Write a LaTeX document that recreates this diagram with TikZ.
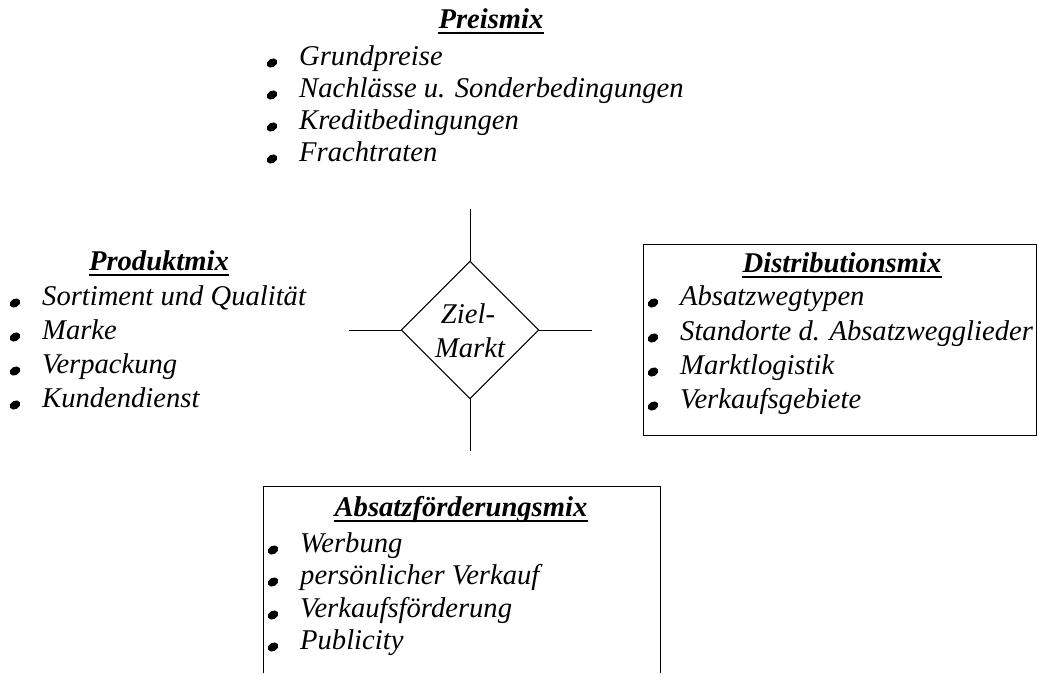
\documentclass[tikz,border=0pt]{standalone}
\usepackage{fontspec}
\setmainfont{Liberation Serif}
\begin{document}
\begin{tikzpicture}[x=1pt,y=-1pt,
  txt/.style={inner sep=0pt,anchor=base west,font=\fontsize{28.6}{32}\selectfont\itshape},
  head/.style={inner sep=0pt,anchor=base,font=\fontsize{28.6}{32}\selectfont\bfseries\itshape},
  ul/.style={line width=2.2pt},
  frame/.style={draw,line width=1pt},
  link/.style={line width=1pt}]
\useasboundingbox (0,0) rectangle (1038,673);

% item with a slanted bullet in front of it
\newcommand{\bitem}[4]{%
  \node[txt] (#1) at (#2,#3) {#4};
  \fill[black,rotate around={30:(#2-27,#3-2)}] (#2-27,#3-2) ellipse (5.6pt and 4.2pt);}
\newcommand{\heading}[4]{%
  \node[head] (#1) at (#2,#3) {#4};
  \draw[ul] ([yshift=-5]#1.base west) -- ([yshift=-5]#1.base east);}

% target market in the middle
\node[draw,line width=1pt,shape=rectangle,rotate=45,minimum size=97,inner sep=0] (zm) at (470,330) {};
\node[inner sep=0,anchor=base,font=\fontsize{28.6}{32}\selectfont\itshape] (z1) at (468,323) {Ziel-};
\node[inner sep=0,anchor=base,font=\fontsize{28.6}{32}\selectfont\itshape] (z2) at (470,357) {Markt};
\coordinate (ztop) at (470,209);
\coordinate (zbot) at (470,451);
\coordinate (zlft) at (349,330);
\coordinate (zrgt) at (592,330);
\draw[link] (zm.north east) -- (ztop);
\draw[link] (zm.south west) -- (zbot);
\draw[link] (zm.north west) -- (zlft);
\draw[link] (zm.south east) -- (zrgt);

% price mix
\heading{pm}{491}{28}{Preismix}
\bitem{p1}{299}{65}{Grundpreise}
\bitem{p2}{299}{97}{Nachlässe u. Sonderbedingungen}
\bitem{p3}{299}{129}{Kreditbedingungen}
\bitem{p4}{299}{161}{Frachtraten}

% product mix
\heading{prm}{159}{270}{Produktmix}
\bitem{r1}{42}{305}{Sortiment und Qualität}
\bitem{r2}{42}{339}{Marke}
\bitem{r3}{42}{373}{Verpackung}
\bitem{r4}{42}{407}{Kundendienst}

% distribution mix
\draw[frame] (1036,435) -- (643,435) -- (643,244) -- (1036,244) -- cycle;
\heading{dm}{842}{272}{Distributionsmix}
\bitem{d1}{680}{305}{Absatzwegtypen}
\bitem{d2}{680}{340}{Standorte d. Absatzwegglieder}
\bitem{d3}{680}{374}{Marktlogistik}
\bitem{d4}{680}{408}{Verkaufsgebiete}

% promotion mix
\draw[frame] (263,673) -- (263,486) -- (660,486) -- (660,673);
\heading{am}{461}{516}{Absatzförderungsmix}
\bitem{a1}{300}{552}{Werbung}
\bitem{a2}{300}{584}{persönlicher Verkauf}
\bitem{a3}{300}{617}{Verkaufsförderung}
\bitem{a4}{300}{649}{Publicity}
\end{tikzpicture}
\end{document}
